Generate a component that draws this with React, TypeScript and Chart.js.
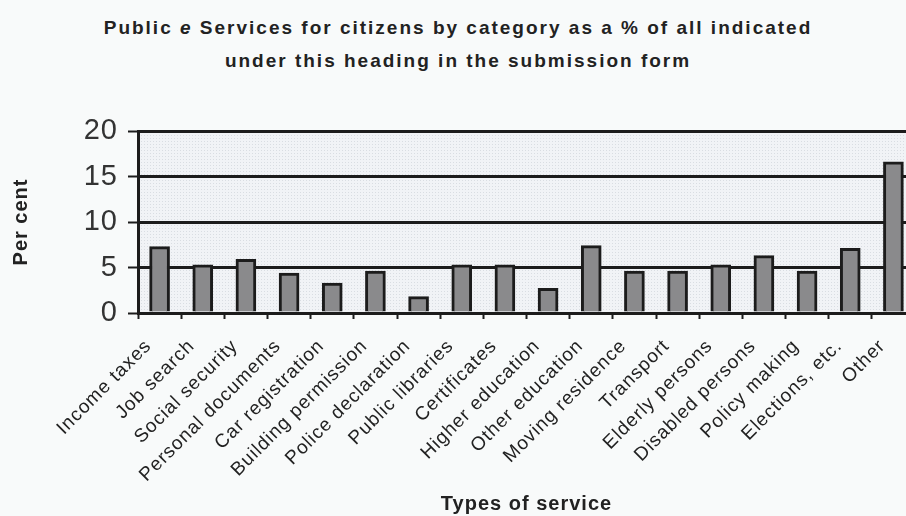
import React, { useEffect, useRef } from "react";
import { Chart, registerables } from "chart.js";

Chart.register(...registerables);

const categories = [
  "Income taxes",
  "Job search",
  "Social security",
  "Personal documents",
  "Car registration",
  "Building permission",
  "Police declaration",
  "Public libraries",
  "Certificates",
  "Higher education",
  "Other education",
  "Moving residence",
  "Transport",
  "Elderly persons",
  "Disabled persons",
  "Policy making",
  "Elections, etc.",
  "Other",
];

const percentValues = [7.3, 5.3, 5.9, 4.4, 3.3, 4.6, 1.8, 5.3, 5.3, 2.7, 7.4, 4.6, 4.6, 5.3, 6.3, 4.6, 7.1, 16.6];

const yTicks = [0, 5, 10, 15, 20];

const FONT = "'Liberation Sans', Arial, sans-serif";

const plotBackground = {
  id: "plotBackground",
  beforeDraw(chart: any) {
    const { ctx, chartArea } = chart;
    ctx.letterSpacing = "1px";
    const off = document.createElement("canvas");
    off.width = 3;
    off.height = 3;
    const o = off.getContext("2d")!;
    o.fillStyle = "#f1f3f6";
    o.fillRect(0, 0, 3, 3);
    o.fillStyle = "#d9dde2";
    o.fillRect(0, 0, 1, 1);
    const pattern = ctx.createPattern(off, "repeat");
    ctx.save();
    ctx.fillStyle = pattern;
    ctx.fillRect(chartArea.left, chartArea.top, chartArea.right - chartArea.left, chartArea.bottom - chartArea.top);
    ctx.restore();
  },
};

export default function App() {
  const canvasRef = useRef<HTMLCanvasElement | null>(null);

  useEffect(() => {
    if (!canvasRef.current) return;
    const chart = new Chart(canvasRef.current, {
      type: "bar",
      data: {
        labels: categories,
        datasets: [
          {
            data: percentValues,
            backgroundColor: "#8a8a8c",
            borderColor: "#1c1c1c",
            borderWidth: 3,
            barThickness: 20,
          },
        ],
      },
      plugins: [plotBackground],
      options: {
        animation: false,
        responsive: false,
        devicePixelRatio: 1,
        layout: { padding: { top: 131, right: 15, left: 0, bottom: 0 } },
        plugins: {
          legend: { display: false },
          tooltip: { enabled: false },
        },
        scales: {
          x: {
            afterFit: (scale: any) => {
              scale.height = 203;
            },
            grid: {
              display: true,
              drawOnChartArea: false,
              drawTicks: true,
              tickLength: 6,
              tickColor: "#1c1c1c",
              tickWidth: 2,
              offset: true,
            },
            border: { display: true, color: "#1c1c1c", width: 3 },
            ticks: {
              autoSkip: false,
              maxRotation: 45,
              minRotation: 45,
              color: "#222",
              padding: 16,
              labelOffset: -11,
              font: { family: FONT, size: 19 },
            },
            title: {
              display: true,
              text: "Types of service",
              color: "#222",
              font: { family: FONT, size: 20, weight: "bold" },
              padding: { top: 0, bottom: 0 },
            },
          },
          y: {
            min: 0,
            max: 20,
            afterFit: (scale: any) => {
              scale.width = 138;
            },
            afterBuildTicks: (scale: any) => {
              scale.ticks = yTicks.map((v) => ({ value: v }));
            },
            grid: {
              color: "#1c1c1c",
              lineWidth: 3,
              tickLength: 10,
              tickColor: "#1c1c1c",
              tickWidth: 2,
            },
            border: { display: true, color: "#1c1c1c", width: 3 },
            ticks: {
              color: "#333",
              padding: 10,
              font: { family: FONT, size: 29 },
            },
            title: {
              display: true,
              text: "Per cent",
              color: "#222",
              font: { family: FONT, size: 20, weight: "bold" },
              padding: { top: 9, bottom: 0 },
            },
          },
        },
      },
    });
    return () => chart.destroy();
  }, []);

  return (
    <div
      style={{
        position: "fixed",
        left: 0,
        top: 0,
        width: 906,
        height: 516,
        overflow: "hidden",
        background: "#f8fafa",
      }}
    >
      <div
        style={{
          position: "absolute",
          left: 0,
          top: 11,
          width: 916,
          textAlign: "center",
          fontFamily: FONT,
          fontWeight: "bold",
          fontSize: 19,
          letterSpacing: "2px",
          lineHeight: "33px",
          color: "#222",
        }}
      >
        Public <i>e</i> Services for citizens by category as a % of all indicated
        <br />
        under this heading in the submission form
      </div>
      <canvas
        ref={canvasRef}
        width={930}
        height={516}
        style={{ position: "absolute", left: 0, top: 0, width: 930, height: 516 }}
      />
    </div>
  );
}
